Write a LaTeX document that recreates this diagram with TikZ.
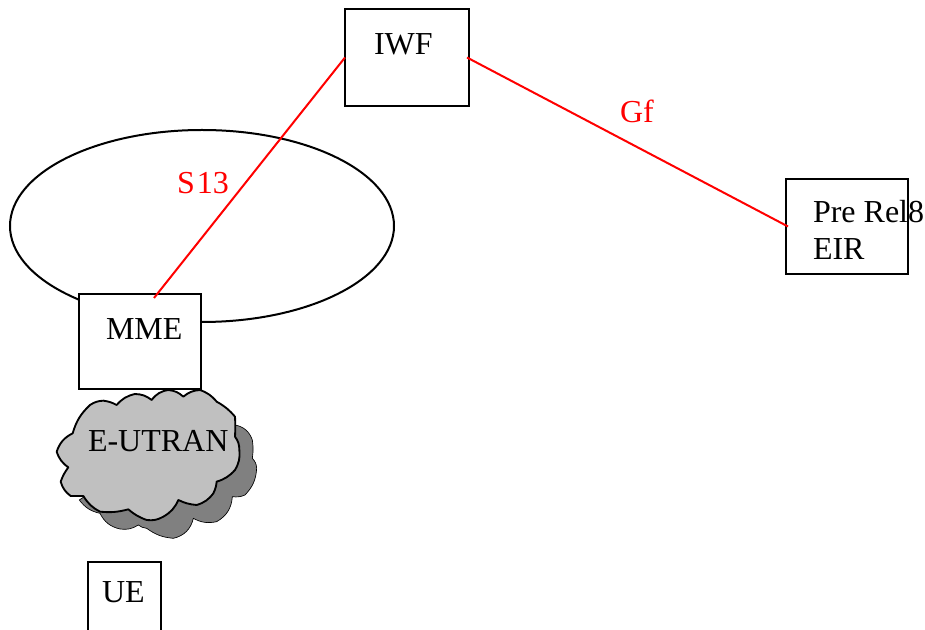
\documentclass[tikz,border=0pt]{standalone}
\usepackage{fontspec}
\setmainfont{Liberation Serif}
\definecolor{cloudback}{HTML}{808080}
\definecolor{cloudfront}{HTML}{C0C0C0}
\tikzset{
  boxn/.style={draw=black,line width=1.4pt,fill=white,minimum width=#1,inner sep=0pt,outer sep=0pt},
  lbl/.style={anchor=base west,inner sep=0pt,outer sep=0pt,font=\fontsize{24pt}{28pt}\selectfont,align=left},
  redlbl/.style={lbl,text=red},
  conn/.style={draw=red,line width=1.5pt}
}
\begin{document}
\begin{tikzpicture}[x=0.75pt,y=-0.75pt]
\clip (0,0) rectangle (925,630);
\fill[white] (0,0) rectangle (925,630);
% ellipse behind MME
\draw[line width=1.5pt] (202,226) ellipse [x radius=192,y radius=96];
% boxes
\node[boxn=93pt,minimum height=72.75pt,anchor=north west] (iwf) at (345,9) {};
\node[boxn=91.5pt,minimum height=71.25pt,anchor=north west] (eir) at (786,179) {};
\node[boxn=91.5pt,minimum height=71.25pt,anchor=north west] (mme) at (79,294) {};
\node[boxn=54.75pt,minimum height=66pt,anchor=north west] (ue) at (88,562) {};
% clouds
\begin{scope}[shift={(0,380)},x=0.25pt,y=-0.25pt]
\filldraw[fill=cloudback,draw=black,line width=0.5pt]
  (600,120) to[bend left=20] (705,135) to[bend left=30] (757,180) to[bend left=8] (757,235)
  to[bend left=20] (770,265) to[bend left=20] (735,345) to[bend left=15] (697,350)
  to[bend left=28] (650,425) to[bend left=20] (580,415) to[bend left=32] (520,475)
  to[bend left=15] (440,445) to[bend left=15] (415,435) to[bend left=20] (360,447)
  to[bend left=25] (300,400) to[bend left=20] (238,360) -- cycle;
\filldraw[fill=cloudfront,draw=black,line width=1.4pt,line join=round]
  (218,160) to[bend left=15] (270,75) to[bend left=15] (310,62) to[bend left=10] (350,75)
  to[bend left=18] (405,42) to[bend left=18] (455,60) to[bend left=22] (505,30)
  to[bend left=18] (550,50) to[bend left=18] (600,30) to[bend left=15] (650,65)
  to[bend left=10] (705,110) to[bend left=3] (705,170) to[bend left=18] (718,210)
  to[bend left=18] (705,270) to[bend left=15] (650,305) to[bend left=10] (640,340)
  to[bend left=18] (590,375) to[bend left=10] (535,360) to[bend left=18] (490,410)
  to[bend left=18] (440,420) to[bend left=10] (385,388) to[bend left=10] (300,395)
  to[bend left=15] (250,348) -- (212,348) to[bend left=18] (182,305) to[bend left=8] (205,262)
  to[bend left=18] (170,215) to[bend left=22] (218,160) -- cycle;
\end{scope}
% labels
\node[lbl] (iwft) at (374,55) {IWF};
\node[lbl] (eirt1) at (813,223) {Pre Rel8};
\node[lbl] (eirt2) at (813,260) {EIR};
\node[lbl] (mmet) at (106,340) {MME};
\node[lbl] (ran) at (88,452) {E-UTRAN};
\node[lbl] (uet) at (102,603) {UE};
\node[redlbl] (s13) at (177,194) {S\kern1.5pt 13};
\node[redlbl] (gf) at (620,123) {Gf};
% connectors
\coordinate (mmein) at (154,298);
\draw[conn] (iwf.west) -- (mmein);
\draw[conn] ([xshift=-1.5pt]iwf.east) -- ([xshift=1.5pt]eir.west);
\end{tikzpicture}
\end{document}
